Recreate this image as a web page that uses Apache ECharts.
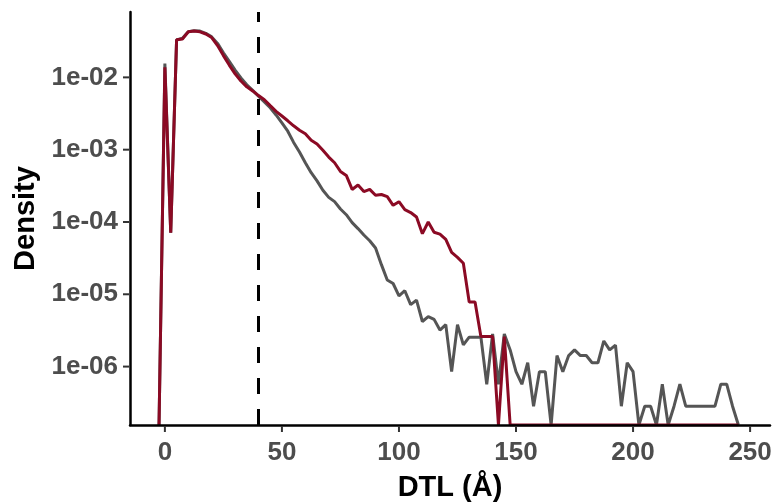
<!DOCTYPE html>
<html>
<head>
<meta charset="utf-8">
<script src="https://cdn.jsdelivr.net/npm/echarts@6/dist/echarts.min.js"></script>
<style>html,body{margin:0;padding:0;background:#fff}#c{width:773px;height:502px}</style>
</head>
<body>
<div id="c"></div>
<script>
// Bin centres (DTL, Å)
const dtl = [
  -2.5, 0, 2.5, 5, 7.5, 10, 12.5, 15, 17.5, 20,
  22.5, 25, 27.5, 30, 32.5, 35, 37.5, 40, 42.5, 45,
  47.5, 50, 52.5, 55, 57.5, 60, 62.5, 65, 67.5, 70,
  72.5, 75, 77.5, 80, 82.5, 85, 87.5, 90, 92.5, 95,
  97.5, 100, 102.5, 105, 107.5, 110, 112.5, 115, 117.5, 120,
  122.5, 125, 127.5, 130, 132.5, 135, 137.5, 140, 142.5, 145,
  147.5, 150, 152.5, 155, 157.5, 160, 162.5, 165, 167.5, 170,
  172.5, 175, 177.5, 180, 182.5, 185, 187.5, 190, 192.5, 195,
  197.5, 200, 202.5, 205, 207.5, 210, 212.5, 215, 217.5, 220,
  222.5, 225, 227.5, 230, 232.5, 235, 237.5, 240, 242.5, 245
];
// Grey series density
const densityGrey = [
  0, 1.55e-2, 7.1e-5, 3.3e-2, 3.47e-2, 4.27e-2, 4.4e-2, 4.37e-2, 4.07e-2, 3.63e-2,
  2.95e-2, 2.19e-2, 1.66e-2, 1.26e-2, 9.8e-3, 7.9e-3, 6.6e-3, 5.5e-3, 4.57e-3, 3.8e-3,
  3.02e-3, 2.34e-3, 1.8e-3, 1.26e-3, 9.3e-4, 6.6e-4, 4.8e-4, 3.7e-4, 2.75e-4, 2.19e-4,
  1.91e-4, 1.51e-4, 1.26e-4, 9.8e-5, 8.1e-5, 6.6e-5, 5.5e-5, 4.37e-5, 2.57e-5, 1.58e-5,
  1.41e-5, 9.5e-6, 1.12e-5, 7.2e-6, 8.3e-6, 4.2e-6, 4.9e-6, 4.5e-6, 3.2e-6, 3.8e-6,
  8.5e-7, 3.8e-6, 2.0e-6, 2.55e-6, 2.55e-6, 2.55e-6, 5.7e-7, 2.83e-6, 5.7e-7, 2.83e-6,
  1.7e-6, 8.5e-7, 5.7e-7, 1.13e-6, 2.83e-7, 8.5e-7, 8.5e-7, 0, 1.42e-6, 8.5e-7,
  1.42e-6, 1.7e-6, 1.42e-6, 1.42e-6, 1.13e-6, 1.13e-6, 2.26e-6, 1.7e-6, 1.98e-6, 2.83e-7,
  1.13e-6, 8.5e-7, 0, 2.83e-7, 2.83e-7, 0, 5.7e-7, 0, 2.83e-7, 5.7e-7,
  2.83e-7, 2.83e-7, 2.83e-7, 2.83e-7, 2.83e-7, 2.83e-7, 5.7e-7, 5.7e-7, 2.83e-7, 0
];
// Red series density
const densityRed = [
  0, 1.38e-2, 7.1e-5, 3.31e-2, 3.39e-2, 4.27e-2, 4.37e-2, 4.27e-2, 3.98e-2, 3.55e-2,
  2.75e-2, 2.0e-2, 1.48e-2, 1.12e-2, 8.9e-3, 7.4e-3, 6.5e-3, 5.6e-3, 4.9e-3, 4.07e-3,
  3.39e-3, 2.92e-3, 2.51e-3, 2.14e-3, 1.86e-3, 1.66e-3, 1.35e-3, 1.2e-3, 9.8e-4, 7.9e-4,
  6.6e-4, 5.0e-4, 4.4e-4, 2.82e-4, 3.24e-4, 2.63e-4, 2.82e-4, 2.34e-4, 2.4e-4, 2.24e-4,
  1.7e-4, 1.91e-4, 1.48e-4, 1.35e-4, 1.17e-4, 6.9e-5, 1.0e-4, 7.2e-5, 6.8e-5, 5.75e-5,
  3.8e-5, 3.24e-5, 2.69e-5, 7.8e-6, 7.8e-6, 2.6e-6, 2.6e-6, 2.6e-6, 0, 2.6e-6,
  0, 0, 0, 0, 0, 0, 0, 0, 0, 0,
  0, 0, 0, 0, 0, 0, 0, 0, 0, 0,
  0, 0, 0, 0, 0, 0, 0, 0, 0, 0,
  0, 0, 0, 0, 0, 0, 0, 0, 0, 0
];
const xTicks = [0, 50, 100, 150, 200, 250];
const yTicks = [1e-6, 1e-5, 1e-4, 1e-3, 1e-2];
const yTickLabels = ['1e-06', '1e-05', '1e-04', '1e-03', '1e-02'];
const cutoff = 40;

const X_MIN = -14.9, X_MAX = 258.5;
const Y_MIN = 1.556e-7, Y_MAX = 0.0802;

function toPoints(vals) {
  return dtl.map((x, i) => [x, vals[i] > 0 ? vals[i] : Y_MIN]);
}

// tick marks drawn through the axes' own scales
function tickItem(params, api) {
  const axisIsX = api.value(0) === 0;
  const v = api.value(1);
  if (axisIsX) {
    const p = api.coord([v, Y_MIN]);
    return {type: 'line', shape: {x1: p[0], y1: p[1] + 1, x2: p[0], y2: p[1] + 7},
            style: {stroke: '#333', lineWidth: 2}};
  }
  const p = api.coord([X_MIN, v]);
  return {type: 'line', shape: {x1: p[0] - 1, y1: p[1], x2: p[0] - 7, y2: p[1]},
          style: {stroke: '#333', lineWidth: 2}};
}
const tickData = xTicks.map(t => [0, t]).concat(yTicks.map(t => [1, t]));

const chart = echarts.init(document.getElementById('c'), null, {renderer: 'canvas'});
const FONT = 'Liberation Sans';
chart.setOption({
  animation: false,
  backgroundColor: '#ffffff',
  grid: {left: 130, right: 3, top: 12, bottom: 77, containLabel: false, outerBoundsMode: 'none'},
  xAxis: {
    type: 'value', min: X_MIN, max: X_MAX, z: 5,
    name: 'DTL (Å)', nameLocation: 'middle', nameGap: 48,
    nameTextStyle: {fontFamily: FONT, fontWeight: 'bold', fontSize: 29, color: '#000'},
    axisLine: {show: true, onZero: false, lineStyle: {color: '#000', width: 2.5}},
    axisTick: {show: false},
    axisLabel: {customValues: xTicks, margin: 15, fontFamily: FONT, fontWeight: 'bold', fontSize: 26, color: '#4d4d4d'},
    splitLine: {show: false}
  },
  yAxis: {
    type: 'log', logBase: 10, min: Y_MIN, max: Y_MAX, z: 5,
    name: 'Density', nameLocation: 'middle', nameGap: 90, nameRotate: 90,
    nameTextStyle: {fontFamily: FONT, fontWeight: 'bold', fontSize: 29, color: '#000'},
    axisLine: {show: true, onZero: false, lineStyle: {color: '#000', width: 2.5}},
    axisTick: {show: false},
    axisLabel: {
      customValues: yTicks, margin: 12, fontFamily: FONT, fontWeight: 'bold', fontSize: 26, color: '#4d4d4d',
      formatter: function (v) {
        let best = 0, bd = Infinity;
        yTicks.forEach((t, i) => { const d = Math.abs(Math.log10(t) - Math.log10(v)); if (d < bd) { bd = d; best = i; } });
        return yTickLabels[best];
      }
    },
    splitLine: {show: false}
  },
  series: [
    {
      type: 'line', data: toPoints(densityGrey), showSymbol: false, symbol: 'none',
      lineStyle: {color: '#555555', width: 3}, z: 2,
      markLine: {
        silent: true, symbol: 'none', label: {show: false},
        lineStyle: {color: '#000', width: 3, type: [16, 15]},
        data: [{xAxis: cutoff}]
      }
    },
    {
      type: 'line', data: toPoints(densityRed), showSymbol: false, symbol: 'none',
      lineStyle: {color: '#8b0a24', width: 3}, z: 3
    },
    {
      type: 'custom', data: tickData, renderItem: tickItem, clip: false, silent: true, z: 6,
      encode: {x: -1, y: -1}
    }
  ]
});
</script>
</body>
</html>
